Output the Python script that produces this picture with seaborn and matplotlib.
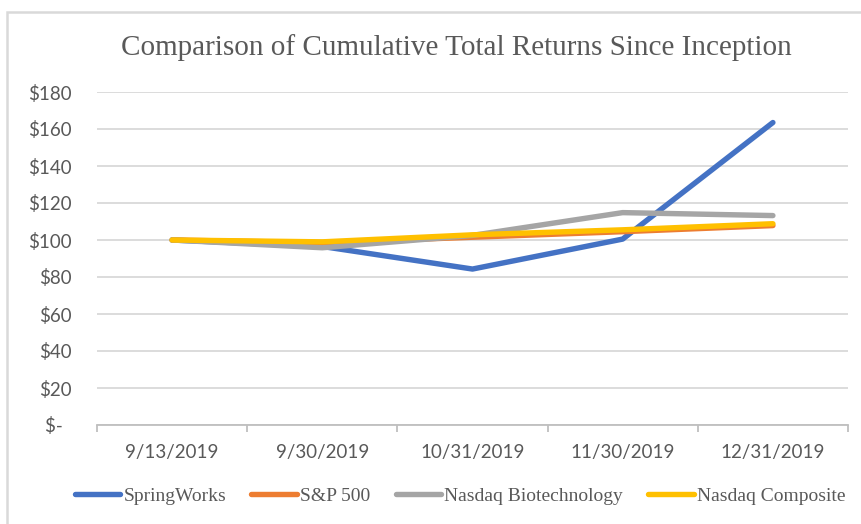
import matplotlib
matplotlib.use("Agg")
import matplotlib.pyplot as plt
import seaborn as sns
import pandas as pd
from matplotlib.patches import Rectangle
from matplotlib.ticker import FixedLocator, FuncFormatter

dates = ["9/13/2019", "9/30/2019", "10/31/2019", "11/30/2019", "12/31/2019"]
series_names = ["SpringWorks", "S&P 500", "Nasdaq Biotechnology", "Nasdaq Composite"]
springworks = [100, 96.5, 84.3, 100.5, 163.5]
sp500 = [100, 98.5, 101.5, 104.5, 107.8]
nasdaq_biotech = [100, 95.8, 102.5, 114.8, 113.2]
nasdaq_composite = [100, 99.0, 102.8, 105.5, 108.8]
colors = ["#4472C4", "#ED7D31", "#A5A5A5", "#FFC000"]
y_ticks = [0, 20, 40, 60, 80, 100, 120, 140, 160, 180]

rows = []
for name, vals in zip(series_names, [springworks, sp500, nasdaq_biotech, nasdaq_composite]):
    for d, v in zip(dates, vals):
        rows.append({"Date": d, "Value": v, "Series": name})
df = pd.DataFrame(rows)

sns.set_theme(style="white")
W, H = 862, 524
fig = plt.figure(figsize=(W / 100, H / 100), dpi=100)
ax = fig.add_axes([97 / W, 1 - 425 / H, (848 - 97) / W, (425 - 92) / H])

sns.lineplot(data=df, x="Date", y="Value", hue="Series", hue_order=series_names,
             palette=colors, sort=False, linewidth=3.9, ax=ax, legend=False,
             solid_capstyle="round", solid_joinstyle="round")

ax.set_xlim(-0.5, len(dates) - 0.5)
ax.set_ylim(0, 180)
ax.set_xlabel("")
ax.set_ylabel("")
ax.set_yticks(y_ticks)
ax.yaxis.set_major_formatter(FuncFormatter(lambda v, p: "$-  " if v == 0 else f"${int(v)}"))
ax.grid(axis="y", color="#d9d9d9", linewidth=1.3)
ax.grid(axis="x", visible=False)
ax.set_axisbelow(True)
for s in ["top", "right", "left"]:
    ax.spines[s].set_visible(False)
ax.spines["bottom"].set_color("#bfbfbf")
ax.spines["bottom"].set_linewidth(1.3)

ax.set_xticks(range(len(dates)))
ax.set_xticklabels(dates)
ax.xaxis.set_minor_locator(FixedLocator([i - 0.5 for i in range(len(dates) + 1)]))
ax.tick_params(axis="x", which="major", length=0, pad=14, labelsize=13.5, labelcolor="#595959")
ax.tick_params(axis="x", which="minor", length=5, width=1.3, color="#bfbfbf", direction="out", bottom=True)
ax.tick_params(axis="y", length=0, pad=18, labelsize=13.5, labelcolor="#595959")
for lab in ax.get_xticklabels() + ax.get_yticklabels():
    lab.set_fontfamily("Lato")

fig.text(456 / W, 1 - 48 / H, "Comparison of Cumulative Total Returns Since Inception",
         ha="center", va="center", fontsize=21, color="#595959", family="Liberation Serif")

handles = [plt.Line2D([], [], color=c, linewidth=3.9, solid_capstyle="round") for c in colors]
fig.legend(handles, series_names, loc="center", bbox_to_anchor=(460 / W, 1 - 496 / H), ncol=4,
           frameon=False, handlelength=2.35, handletextpad=0.15, columnspacing=1.3,
           prop={"family": "Liberation Serif", "size": 14}, labelcolor="#595959")

fig.patches.append(Rectangle((7 / W, -0.05), 1.1, 1 - 12 / H + 0.05, transform=fig.transFigure,
                             fill=False, edgecolor="#d9d9d9", linewidth=1.8, zorder=0))

fig.savefig("out.png", dpi=100)
